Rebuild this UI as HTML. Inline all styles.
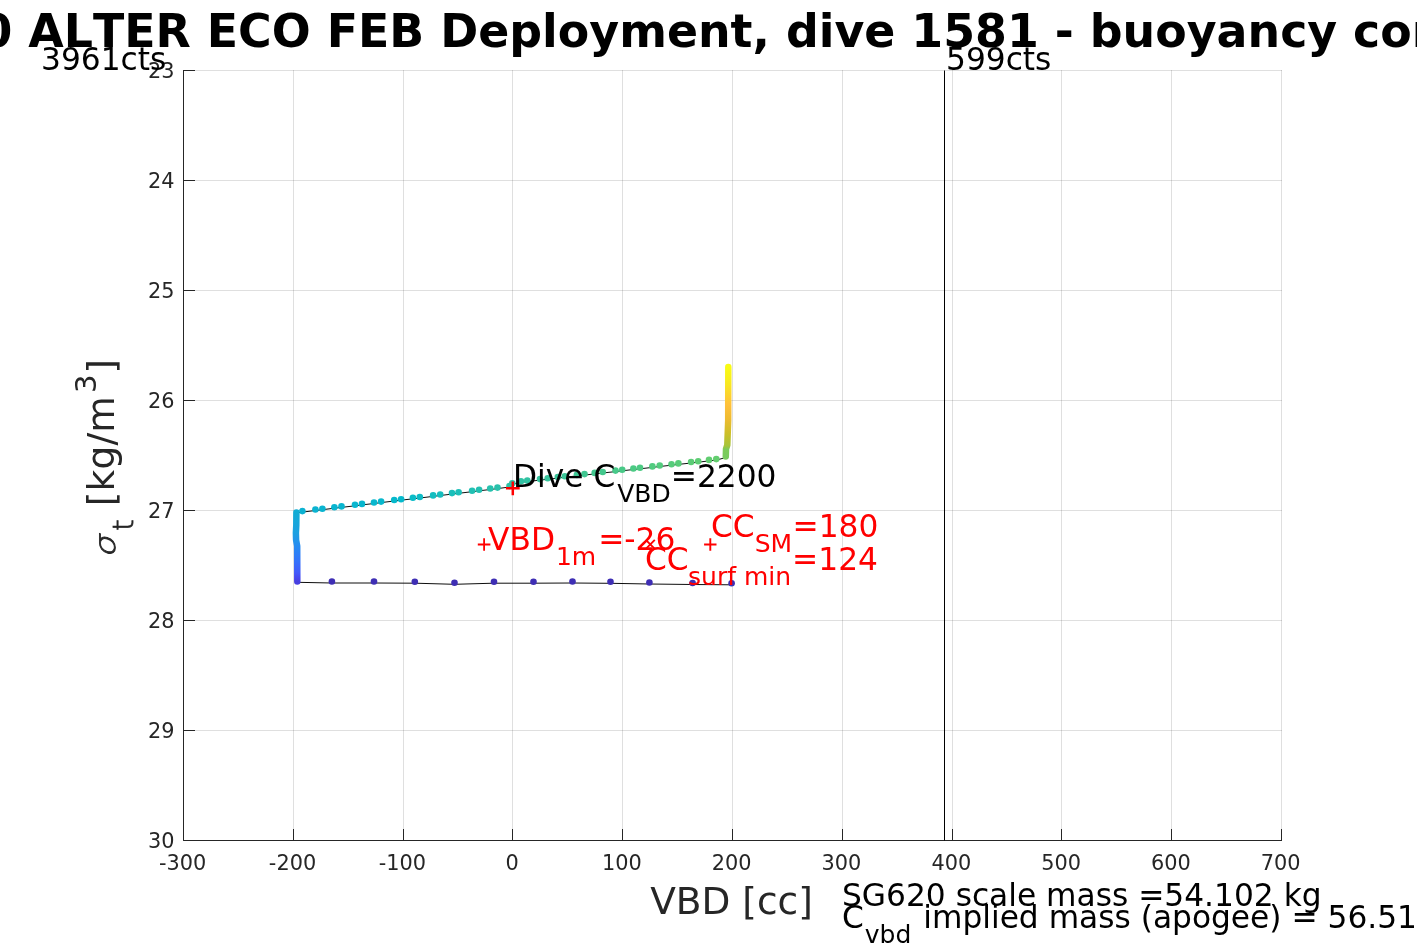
<!DOCTYPE html>
<html lang="en"><head><meta charset="utf-8"><title>SG620 ALTER ECO FEB Deployment, dive 1581 - buoyancy control</title>
<style>
html,body{margin:0;padding:0;background:#fff;}
body{width:1417px;height:945px;overflow:hidden;position:relative;}
svg{position:absolute;left:0;top:0;display:block;}
text{font-family:"DejaVu Sans","Liberation Sans",sans-serif;font-kerning:none;font-variant-ligatures:none;}
.tk{font-size:20.83px;fill:#262626;}
.lab{font-size:37.5px;fill:#262626;}
.ttl{font-size:45.83px;font-weight:bold;fill:#000;}
.ann{font-size:31.25px;fill:#000;}
.red{font-size:31.25px;fill:#ff0000;}
.sub{font-size:25px;}
.thin{font-family:"DejaVu Sans Light","DejaVu Sans","Liberation Sans",sans-serif;stroke:#262626;stroke-width:0.85px;}
</style></head><body>
<svg width="1417" height="945" viewBox="0 0 1417 945">
<defs>
<linearGradient id="gy" x1="0" y1="0" x2="0" y2="1"><stop offset="0" stop-color="#f9fb15"/><stop offset="0.18" stop-color="#f8e920"/><stop offset="0.42" stop-color="#ffc03a"/><stop offset="0.58" stop-color="#eebb30"/><stop offset="0.75" stop-color="#cbbf28"/><stop offset="0.88" stop-color="#a7c43a"/><stop offset="0.92" stop-color="#7ccb5a"/><stop offset="1" stop-color="#78cb5e"/></linearGradient>
<linearGradient id="gb" x1="0" y1="0" x2="0" y2="1"><stop offset="0" stop-color="#12acd4"/><stop offset="0.3" stop-color="#1ca0e1"/><stop offset="0.5" stop-color="#268af2"/><stop offset="0.7" stop-color="#3473fa"/><stop offset="0.87" stop-color="#425afa"/><stop offset="0.95" stop-color="#4648ee"/><stop offset="1" stop-color="#473fe0"/></linearGradient>
</defs>
<rect x="0" y="0" width="1417" height="945" fill="#fff"/>
<path d="M183.5 70.0V841.0M293.5 70.0V841.0M403.5 70.0V841.0M512.5 70.0V841.0M622.5 70.0V841.0M732.5 70.0V841.0M842.5 70.0V841.0M952.5 70.0V841.0M1061.5 70.0V841.0M1171.5 70.0V841.0M1281.5 70.0V841.0" stroke="#262626" stroke-opacity="0.15" stroke-width="1" fill="none"/>
<path d="M183.0 70.5H1282.0M183.0 180.5H1282.0M183.0 290.5H1282.0M183.0 400.5H1282.0M183.0 510.5H1282.0M183.0 620.5H1282.0M183.0 730.5H1282.0M183.0 840.5H1282.0" stroke="#262626" stroke-opacity="0.15" stroke-width="1" fill="none"/>
<path d="M183.5 70.0V840.5H1282.0M183.5 840.5v-11.5M293.5 840.5v-11.5M403.5 840.5v-11.5M512.5 840.5v-11.5M622.5 840.5v-11.5M732.5 840.5v-11.5M842.5 840.5v-11.5M952.5 840.5v-11.5M1061.5 840.5v-11.5M1171.5 840.5v-11.5M1281.5 840.5v-11.5M183.5 70.5h11.5M183.5 180.5h11.5M183.5 290.5h11.5M183.5 400.5h11.5M183.5 510.5h11.5M183.5 620.5h11.5M183.5 730.5h11.5M183.5 840.5h11.5" stroke="#262626" stroke-width="1" fill="none"/>
<text class="tk" x="182.7" y="870" text-anchor="middle">-300</text>
<text class="tk" x="292.5" y="870" text-anchor="middle">-200</text>
<text class="tk" x="402.3" y="870" text-anchor="middle">-100</text>
<text class="tk" x="512.1" y="870" text-anchor="middle">0</text>
<text class="tk" x="621.9" y="870" text-anchor="middle">100</text>
<text class="tk" x="731.7" y="870" text-anchor="middle">200</text>
<text class="tk" x="841.5" y="870" text-anchor="middle">300</text>
<text class="tk" x="951.3" y="870" text-anchor="middle">400</text>
<text class="tk" x="1061.1" y="870" text-anchor="middle">500</text>
<text class="tk" x="1170.9" y="870" text-anchor="middle">600</text>
<text class="tk" x="1280.7" y="870" text-anchor="middle">700</text>
<text class="tk" x="174.4" y="77.9" text-anchor="end">23</text>
<text class="tk" x="174.4" y="187.9" text-anchor="end">24</text>
<text class="tk" x="174.4" y="297.9" text-anchor="end">25</text>
<text class="tk" x="174.4" y="407.9" text-anchor="end">26</text>
<text class="tk" x="174.4" y="517.9" text-anchor="end">27</text>
<text class="tk" x="174.4" y="627.9" text-anchor="end">28</text>
<text class="tk" x="174.4" y="737.9" text-anchor="end">29</text>
<text class="tk" x="174.4" y="847.9" text-anchor="end">30</text>
<path d="M944.5 70.5V840.5" stroke="#000" stroke-width="1" fill="none"/>
<polyline points="728.3,367.0 727.5,440.0 725.8,457.5 716.3,460.1 709.0,460.9 698.2,462.2 691.1,463.0 678.4,464.4 671.5,465.2 659.7,466.5 652.4,467.4 640.0,468.8 633.4,469.5 622.2,470.8 615.5,471.6 602.7,473.0 594.7,473.9 584.5,475.1 576.9,475.9 564.8,477.3 557.8,478.1 547.7,479.3 540.0,480.1 527.3,481.6 521.0,482.3 512.3,484.3 509.5,487.0 497.5,488.6 490.2,489.5 479.1,490.8 472.1,491.7 458.6,493.3 452.0,494.1 440.2,495.5 433.1,496.4 419.8,498.0 412.9,498.8 401.1,500.2 394.2,501.0 381.1,502.6 374.0,503.5 362.0,504.9 355.0,505.8 341.5,507.4 334.4,508.2 322.4,509.7 315.4,510.5 302.4,512.1 296.3,513.0 296.8,580.0 297.2,582.3 331.9,583.0 374.0,583.0 414.8,583.2 454.5,584.3 494.0,583.2 533.5,583.2 572.5,583.0 610.5,583.3 649.4,584.0 692.6,584.5 731.6,584.8" stroke="#0d0d0d" stroke-width="1" fill="none"/>
<circle cx="302.4" cy="511.1" r="3.3" fill="#0cb2d2"/>
<circle cx="315.4" cy="509.5" r="3.3" fill="#0bb3d1"/>
<circle cx="322.4" cy="508.7" r="3.3" fill="#0ab4d0"/>
<circle cx="334.4" cy="507.2" r="3.3" fill="#0ab5d0"/>
<circle cx="341.5" cy="506.4" r="3.3" fill="#09b5cf"/>
<circle cx="355.0" cy="504.8" r="3.3" fill="#09b6cf"/>
<circle cx="362.0" cy="503.9" r="3.3" fill="#08b6ce"/>
<circle cx="374.0" cy="502.5" r="3.3" fill="#08b7ce"/>
<circle cx="381.1" cy="501.6" r="3.3" fill="#07b8cd"/>
<circle cx="394.2" cy="500.0" r="3.3" fill="#06b9cc"/>
<circle cx="401.1" cy="499.2" r="3.3" fill="#06b9cc"/>
<circle cx="412.9" cy="497.8" r="3.3" fill="#0bbbc7"/>
<circle cx="419.8" cy="497.0" r="3.3" fill="#0ebbc5"/>
<circle cx="433.1" cy="495.4" r="3.3" fill="#13bdc0"/>
<circle cx="440.2" cy="494.5" r="3.3" fill="#16bebe"/>
<circle cx="452.0" cy="493.1" r="3.3" fill="#1abfba"/>
<circle cx="458.6" cy="492.3" r="3.3" fill="#1cbfb8"/>
<circle cx="472.1" cy="490.7" r="3.3" fill="#21c0b3"/>
<circle cx="479.1" cy="489.8" r="3.3" fill="#23c0b1"/>
<circle cx="490.2" cy="488.5" r="3.3" fill="#27c1ad"/>
<circle cx="497.5" cy="487.6" r="3.3" fill="#29c1ab"/>
<circle cx="509.5" cy="486.0" r="3.3" fill="#2dc2a7"/>
<circle cx="512.3" cy="483.3" r="3.3" fill="#2dc2a6"/>
<circle cx="521.0" cy="481.3" r="3.3" fill="#30c2a4"/>
<circle cx="527.3" cy="480.6" r="3.3" fill="#31c3a2"/>
<circle cx="540.0" cy="479.1" r="3.3" fill="#35c49e"/>
<circle cx="547.7" cy="478.3" r="3.3" fill="#37c49c"/>
<circle cx="557.8" cy="477.1" r="3.3" fill="#39c599"/>
<circle cx="564.8" cy="476.3" r="3.3" fill="#3bc597"/>
<circle cx="576.9" cy="474.9" r="3.3" fill="#3ec693"/>
<circle cx="584.5" cy="474.1" r="3.3" fill="#40c791"/>
<circle cx="594.7" cy="472.9" r="3.3" fill="#42c78f"/>
<circle cx="602.7" cy="472.0" r="3.3" fill="#44c88d"/>
<circle cx="615.5" cy="470.6" r="3.3" fill="#47c989"/>
<circle cx="622.2" cy="469.8" r="3.3" fill="#49c987"/>
<circle cx="633.4" cy="468.5" r="3.3" fill="#4cca84"/>
<circle cx="640.0" cy="467.8" r="3.3" fill="#4dca83"/>
<circle cx="652.4" cy="466.4" r="3.3" fill="#51cb7f"/>
<circle cx="659.7" cy="465.5" r="3.3" fill="#53cb7d"/>
<circle cx="671.5" cy="464.2" r="3.3" fill="#56cc7a"/>
<circle cx="678.4" cy="463.4" r="3.3" fill="#58cc78"/>
<circle cx="691.1" cy="462.0" r="3.3" fill="#5bcc75"/>
<circle cx="698.2" cy="461.2" r="3.3" fill="#5ecd74"/>
<circle cx="709.0" cy="459.9" r="3.3" fill="#61cd71"/>
<circle cx="716.3" cy="459.1" r="3.3" fill="#63ce6f"/>
<path d="M728.3 367L728.2 420L727.3 445L726 449L725.8 456.5" stroke="url(#gy)" stroke-width="6.5" stroke-linecap="round" stroke-linejoin="round" fill="none"/>
<path d="M296.4 512.4L296.3 525L295.9 533L296.1 540L297.2 546L297.3 581.4" stroke="url(#gb)" stroke-width="6.5" stroke-linecap="round" stroke-linejoin="round" fill="none"/>
<circle cx="331.9" cy="581.5" r="3.3" fill="#3e2eb4"/>
<circle cx="374.0" cy="581.5" r="3.3" fill="#3e2eb4"/>
<circle cx="414.8" cy="581.7" r="3.3" fill="#3e2eb4"/>
<circle cx="454.5" cy="582.8" r="3.3" fill="#3e2eb4"/>
<circle cx="494.0" cy="581.7" r="3.3" fill="#3e2eb4"/>
<circle cx="533.5" cy="581.7" r="3.3" fill="#3e2eb4"/>
<circle cx="572.5" cy="581.5" r="3.3" fill="#3e2eb4"/>
<circle cx="610.5" cy="581.8" r="3.3" fill="#3e2eb4"/>
<circle cx="649.4" cy="582.5" r="3.3" fill="#3e2eb4"/>
<circle cx="692.6" cy="583.0" r="3.3" fill="#3e2eb4"/>
<circle cx="731.6" cy="583.3" r="3.3" fill="#3e2eb4"/>
<path d="M505.9 488.3h13.8M512.8 481.4v13.8" stroke="#ff0000" stroke-width="2.5" fill="none"/>
<path d="M477.8 544.5h12.6M484.1 538.2v12.6" stroke="#ff0000" stroke-width="1.8" fill="none"/>
<path d="M704.1 544.5h12.4M710.3 538.3v12.4" stroke="#ff0000" stroke-width="1.9" fill="none"/>
<path d="M645.8 539.8l9.0 9.0M645.8 548.8l9.0 -9.0" stroke="#ff0000" stroke-width="1.9" fill="none"/>
<text class="ann" x="513" y="487.4">Dive C<tspan class="sub" dx="2" dy="15">VBD</tspan><tspan dx="0.0" dy="-15">=2200</tspan></text>
<text class="red" x="488.1" y="550">VBD<tspan class="sub" dx="0.9" dy="15">1m</tspan><tspan dx="2" dy="-15">=-26</tspan></text>
<text class="red" x="711" y="537.4">CC<tspan class="sub" dx="0" dy="15">SM</tspan><tspan dx="0.4" dy="-15">=180</tspan></text>
<text class="red" x="645" y="570.3">CC<tspan class="sub" dx="-0.6" dy="15">surf min</tspan><tspan dx="1.0" dy="-15">=124</tspan></text>
<text class="ann" x="41" y="70">3961cts</text>
<text class="ann" x="946" y="70">599cts</text>
<text class="ann" x="842" y="906">SG620 scale mass =54.102 kg</text>
<text class="ann" x="842" y="928">C<tspan class="sub" dx="1" dy="15">vbd</tspan><tspan dx="2" dy="-15"> implied mass (apogee) = 56.511 kg</tspan></text>
<text class="lab" x="731.5" y="914" text-anchor="middle">VBD [cc]</text>
<g transform="translate(114.4,506.3) rotate(-90)">
<text class="lab" x="0" y="0" style="letter-spacing:0.2px">[kg/m<tspan style="font-size:29.17px" dx="3" dy="-18.4">3</tspan><tspan dx="0.5" dy="18.4">]</tspan></text>
<text class="lab thin" style="font-size:29.17px" x="-24.5" y="19">t</text>
<text class="lab thin" style="font-size:28.5px;font-style:oblique" transform="translate(-51.7,0.6) scale(1.2,1)" x="0" y="0">σ</text>
</g>
<text class="ttl" x="691.1" y="47" text-anchor="middle">SG620 ALTER ECO FEB Deployment, dive 1581 - buoyancy control</text>
</svg>
</body></html>
